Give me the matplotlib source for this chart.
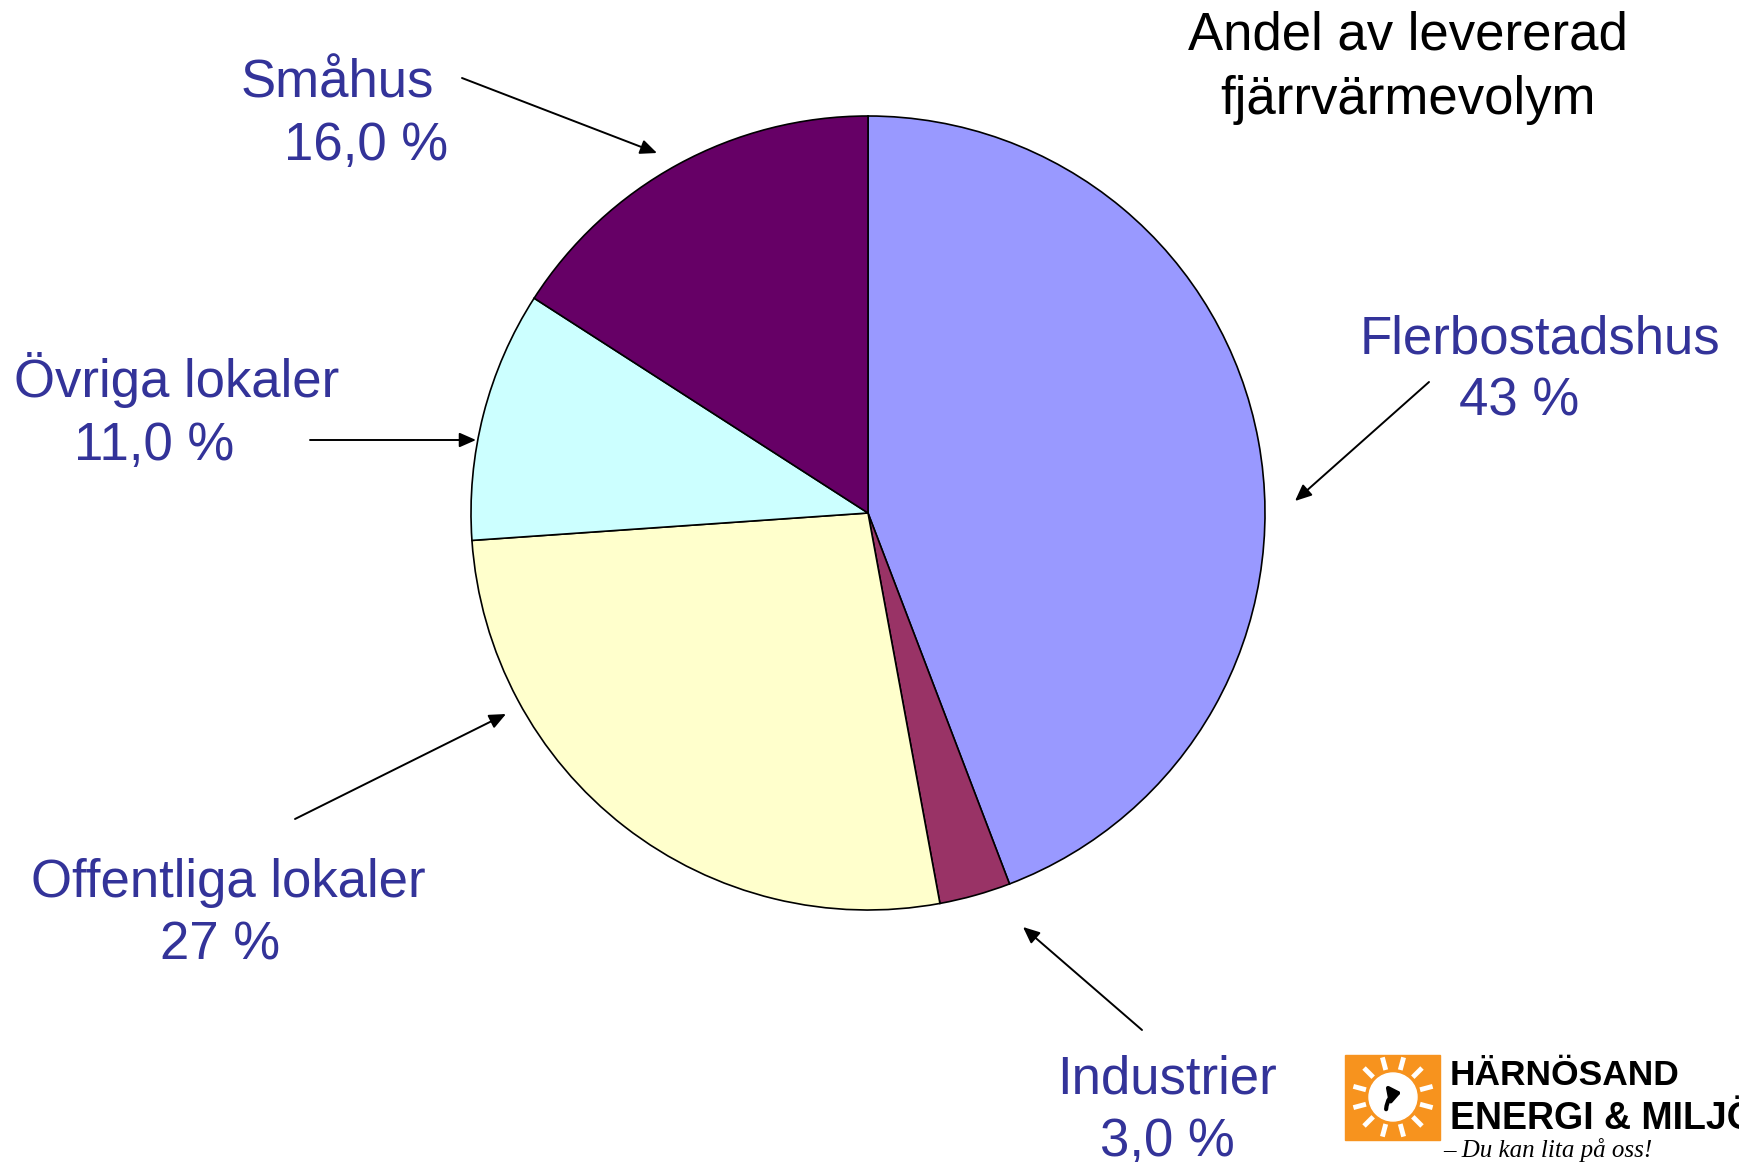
import matplotlib.pyplot as plt
import numpy as np
from matplotlib.patches import Rectangle, Circle, FancyArrowPatch

categories = ['Flerbostadshus', 'Industrier', 'Offentliga lokaler', 'Övriga lokaler', 'Småhus']
shares = [44.2, 2.9, 26.8, 10.2, 15.9]
share_labels = ['43 %', '3,0 %', '27 %', '11,0 %', '16,0 %']
colors = ['#9999FF', '#993366', '#FFFFCC', '#CCFFFF', '#660066']
title_lines = ['Andel av levererad', 'fjärrvärmevolym']

W, H = 1740, 1162
TXT = '#333399'
FONT = ['Liberation Sans', 'DejaVu Sans']


def py(y):
    # pixel row (from top) -> data y (from bottom)
    return H - y


fig = plt.figure(figsize=(W / 100, H / 100), dpi=100)
ax = fig.add_axes([0, 0, 1, 1])

ax.pie(shares, colors=colors, startangle=90, counterclock=False,
       center=(868, py(513)), radius=397,
       wedgeprops=dict(edgecolor='black', linewidth=1.2))
ax.set_xlim(0, W)
ax.set_ylim(0, H)
ax.set_aspect('equal')
ax.axis('off')

# label layout: (name x, name baseline, value x, value baseline), arrow start/end
layout = {
    'Flerbostadshus': (1540, 353, 1519, 416, (1429, 382), (1295, 501)),
    'Industrier': (1167, 1093, 1167, 1156, (1142, 1030), (1023, 927)),
    'Offentliga lokaler': (228, 897, 220, 960, (295, 819), (506, 714)),
    'Övriga lokaler': (177, 397, 154, 460, (310, 440), (476, 440)),
    'Småhus': (337, 97, 366, 160, (462, 78), (657, 153)),
}

for name, val in zip(categories, share_labels):
    nx, ny, vx, vy, a0, a1 = layout[name]
    ax.text(nx, py(ny), name, ha='center', va='baseline', fontsize=38,
            color=TXT, family=FONT)
    ax.text(vx, py(vy), val, ha='center', va='baseline', fontsize=38,
            color=TXT, family=FONT)
    ax.add_patch(FancyArrowPatch((a0[0], py(a0[1])), (a1[0], py(a1[1])),
                                 arrowstyle='-|>,head_length=0.5,head_width=0.22',
                                 mutation_scale=20, color='black', lw=1.4,
                                 shrinkA=0, shrinkB=0))

ax.text(1408, py(50), title_lines[0], ha='center', va='baseline', fontsize=38,
        color='black', family=FONT)
ax.text(1408, py(114), title_lines[1], ha='center', va='baseline', fontsize=38,
        color='black', family=FONT)

# logo, bottom right
orange = '#F7931E'
ax.add_patch(Rectangle((1345, py(1140)), 95, 85, color=orange, zorder=3))
cx, cy = 1393, py(1097)
ax.add_patch(Circle((cx, cy), 24, color='white', zorder=4))
for ang in np.arange(0, 360, 30):
    r = np.deg2rad(ang + 15)
    ax.plot([cx + 28 * np.cos(r), cx + 41 * np.cos(r)],
            [cy + 28 * np.sin(r), cy + 41 * np.sin(r)],
            color='white', lw=3.5, zorder=4, solid_capstyle='butt')
ax.add_patch(FancyArrowPatch((1386, py(1112)), (1404, py(1092)),
                             connectionstyle='arc3,rad=-0.45',
                             arrowstyle='-|>,head_length=0.45,head_width=0.35',
                             mutation_scale=14, color='black', lw=3, zorder=5))
ax.text(1450, py(1085), 'HÄRNÖSAND', ha='left', va='baseline', fontsize=25.5,
        fontweight='heavy', color='black', family=FONT)
ax.text(1450, py(1129), 'ENERGI & MILJÖ', ha='left', va='baseline', fontsize=27,
        fontweight='heavy', color='black', family=FONT)
ax.text(1443, py(1157), '– Du kan lita på oss!', ha='left', va='baseline',
        fontsize=18, style='italic', color='black',
        family=['Liberation Serif', 'DejaVu Serif'])

plt.savefig('out.png', dpi=100)
